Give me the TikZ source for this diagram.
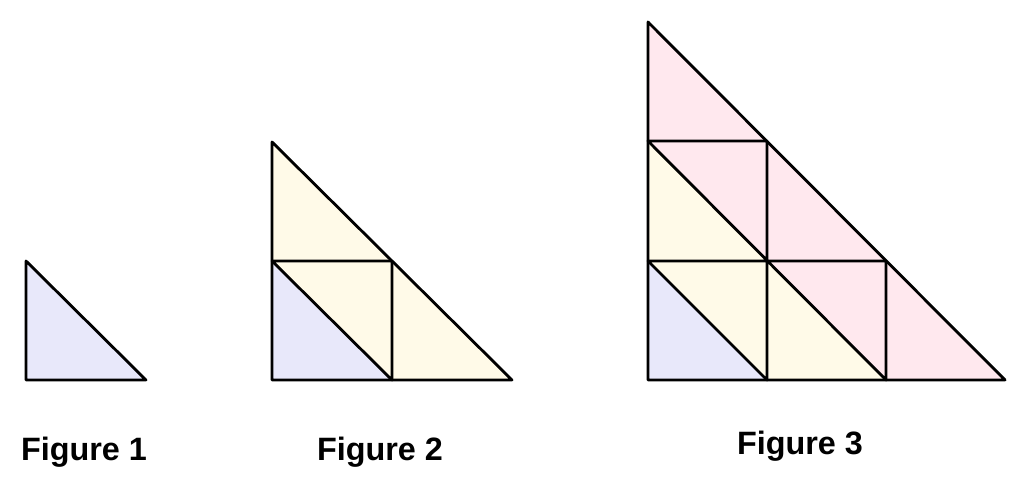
\documentclass[tikz,border=0pt]{standalone}
\usepackage{fontspec}
\setmainfont{Liberation Sans}
\usepackage{tikz}
\definecolor{lblue}{HTML}{E8E8FA}
\definecolor{lyellow}{HTML}{FFFAE8}
\definecolor{lpink}{HTML}{FFE8EE}
\begin{document}
\begin{tikzpicture}[x=0.025cm, y=-0.025cm, line join=round, line cap=round, line width=2pt,
  caption/.style={font=\fontsize{23}{27}\selectfont\bfseries}]
\useasboundingbox (0,0) rectangle (1027,490);
% Figure 1
\coordinate (A1) at (26,380);
\coordinate (B1) at (146,380);
\coordinate (C1) at (26,261);
\fill[lblue] (A1) -- (B1) -- (C1) -- cycle;
\draw (A1) -- (B1) -- (C1) -- cycle;
% Figure 2
\coordinate (A2) at (272,380);
\coordinate (B2) at (392,380);
\coordinate (C2) at (512,380);
\coordinate (D2) at (272,261);
\coordinate (E2) at (392,261);
\coordinate (F2) at (272,142);
\fill[lyellow] (A2) -- (C2) -- (F2) -- cycle;
\fill[lblue] (A2) -- (B2) -- (D2) -- cycle;
\draw (A2) -- (C2) -- (F2) -- cycle;
\draw (D2) -- (E2) -- (B2) -- (D2);
% Figure 3
\coordinate (A3) at (648,380);
\coordinate (B3) at (767,380);
\coordinate (C3) at (886,380);
\coordinate (D3) at (1005,380);
\coordinate (E3) at (648,261);
\coordinate (F3) at (767,261);
\coordinate (G3) at (886,261);
\coordinate (H3) at (648,141);
\coordinate (I3) at (767,141);
\coordinate (J3) at (648,22);
\fill[lpink] (A3) -- (D3) -- (J3) -- cycle;
\fill[lyellow] (A3) -- (C3) -- (H3) -- cycle;
\fill[lblue] (A3) -- (B3) -- (E3) -- cycle;
\draw (A3) -- (D3) -- (J3) -- cycle;
\draw (E3) -- (G3) -- (C3) -- (H3) -- (I3) -- (B3) -- (E3);
% captions
\node[caption] (fig1) at (84,452) {Figure 1};
\node[caption] (fig2) at (380,452) {Figure 2};
\node[caption] (fig3) at (800,446) {Figure 3};
\end{tikzpicture}
\end{document}
